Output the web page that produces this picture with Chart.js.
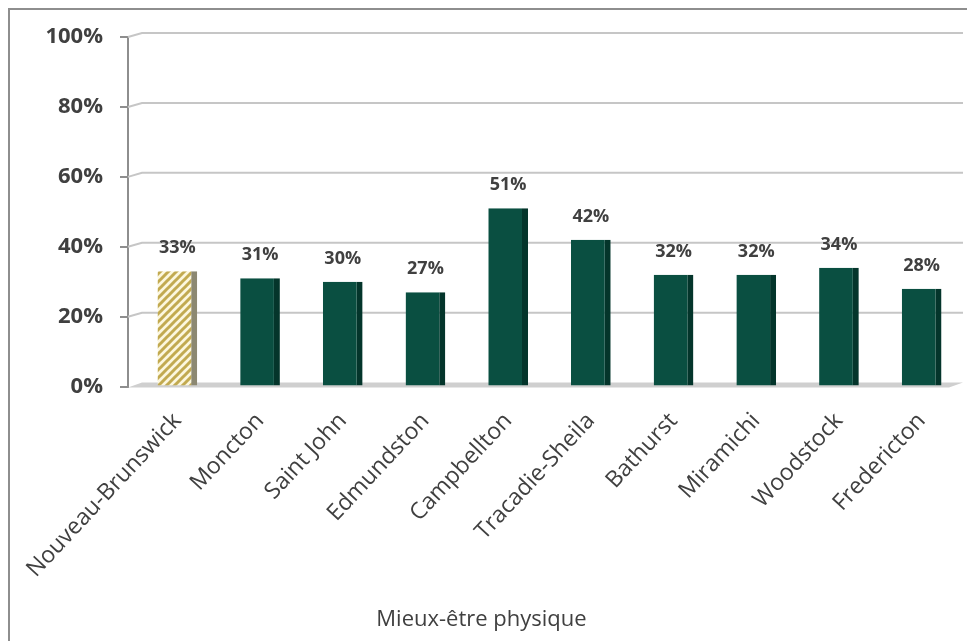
<!DOCTYPE html>
<html>
<head>
<meta charset="utf-8">
<script src="https://cdn.jsdelivr.net/npm/chart.js@4/dist/chart.umd.min.js"></script>
<style>
  html, body { margin: 0; padding: 0; background: #fff; }
  #wrap { position: absolute; left: 0; top: 0; width: 967px; height: 641px; }
  #cadre { position: absolute; left: 8px; top: 8px; width: 970px; height: 650px;
           border-left: 2px solid #8e8e8e; border-top: 2px solid #8e8e8e; pointer-events: none; }
</style>
</head>
<body>
<div id="wrap">
  <canvas id="graficoMieuxEtre" width="967" height="641"></canvas>
  <div id="cadre"></div>
</div>
<script>
  // Données du graphique
  const regions = ["Nouveau-Brunswick", "Moncton", "Saint John", "Edmundston", "Campbellton",
                   "Tracadie-Sheila", "Bathurst", "Miramichi", "Woodstock", "Fredericton"];
  const pourcentages = [33, 31, 30, 27, 51, 42, 32, 32, 34, 28];
  const graduations = [0, 20, 40, 60, 80, 100];
  const titreAxe = "Mieux-être physique";

  const police = "'Open Sans', 'Liberation Sans', sans-serif";
  const gris = "#404040";

  // Hachures pour la barre provinciale
  function creerHachures() {
    const c = document.createElement("canvas");
    c.width = 8; c.height = 8;
    const x = c.getContext("2d");
    x.fillStyle = "#fcf7de";
    x.fillRect(0, 0, 8, 8);
    x.strokeStyle = "#c2aa50";
    x.lineWidth = 3;
    x.beginPath();
    x.moveTo(-2, 10); x.lineTo(10, -2);
    x.moveTo(-2, 2); x.lineTo(2, -2);
    x.moveTo(6, 10); x.lineTo(10, 6);
    x.stroke();
    return x.createPattern(c, "repeat");
  }
  const hachures = creerHachures();

  const couleursFond = pourcentages.map((v, i) => i === 0 ? hachures : "#0a4f41");
  const couleursCote = pourcentages.map((v, i) => i === 0 ? "#8c8872" : "#04352b");

  // Décalage de profondeur (effet 3D du quadrillage et du plancher)
  const profX = 14, profY = 4;

  // Quadrillage en perspective + plancher
  const quadrillage = {
    id: "quadrillage",
    afterLayout(chart) {
      // les catégories commencent après la profondeur du mur gauche
      const x = chart.scales.x;
      x.left += 8;
      x.configure();
    },
    beforeDatasetsDraw(chart) {
      const ctx = chart.ctx;
      const y = chart.scales.y;
      const a = chart.chartArea;
      ctx.save();
      ctx.lineWidth = 2;
      ctx.strokeStyle = "#c6c6c6";
      graduations.slice(1).forEach(v => {
        const py = y.getPixelForValue(v);
        ctx.beginPath();
        ctx.moveTo(a.left, py);
        ctx.lineTo(a.left + profX, py - profY);
        ctx.lineTo(a.right, py - profY);
        ctx.stroke();
      });
      // plancher
      const p0 = y.getPixelForValue(0);
      ctx.fillStyle = "#cfcfcf";
      ctx.beginPath();
      ctx.moveTo(a.left, p0 + 1);
      ctx.lineTo(a.left + profX, p0 - profY);
      ctx.lineTo(a.right, p0 - profY);
      ctx.lineTo(a.right - profX, p0 + 1);
      ctx.closePath();
      ctx.fill();
      ctx.restore();
    }
  };

  // Étiquettes de valeur au-dessus des barres
  const etiquettes = {
    id: "etiquettes",
    afterDatasetsDraw(chart) {
      const ctx = chart.ctx;
      const meta = chart.getDatasetMeta(0);
      ctx.save();
      ctx.font = "bold 18px " + police;
      ctx.fillStyle = gris;
      ctx.textAlign = "center";
      ctx.textBaseline = "middle";
      meta.data.forEach((barre, i) => {
        ctx.fillText(pourcentages[i] + "%", barre.x, barre.y - 23);
      });
      ctx.restore();
    }
  };

  new Chart(document.getElementById("graficoMieuxEtre"), {
    type: "bar",
    data: {
      labels: regions,
      datasets: [{
        data: pourcentages,
        backgroundColor: couleursFond,
        borderColor: couleursCote,
        borderWidth: { top: 0, left: 0, bottom: 0, right: 6 },
        borderSkipped: false,
        categoryPercentage: 1,
        barPercentage: 0.48
      }]
    },
    options: {
      responsive: false,
      animation: false,
      layout: { padding: { top: 37, right: 4, bottom: 8, left: 0 } },
      plugins: {
        legend: { display: false },
        tooltip: { enabled: false },
        title: {
          display: true,
          position: "bottom",
          text: titreAxe,
          color: gris,
          font: { family: police, size: 22, weight: "normal" },
          padding: { top: 0, bottom: 0 }
        }
      },
      scales: {
        x: {
          grid: { display: false },
          border: { display: false },
          ticks: {
            color: gris,
            font: { family: police, size: 23 },
            minRotation: 47,
            maxRotation: 47,
            padding: 13
          },
          afterFit(scale) { scale.height = 220; }
        },
        y: {
          min: 0,
          max: 100,
          afterBuildTicks(scale) { scale.ticks = graduations.map(v => ({ value: v })); },
          grid: { drawOnChartArea: false, lineWidth: 2, tickLength: 8, tickColor: "#8e8e8e" },
          border: { color: "#8e8e8e", width: 2 },
          ticks: {
            color: gris,
            font: { family: police, size: 22, weight: "bold" },
            padding: 17,
            callback: v => v + "%"
          },
          afterFit(scale) { scale.width = 128; }
        }
      }
    },
    plugins: [quadrillage, etiquettes]
  });
</script>
</body>
</html>
